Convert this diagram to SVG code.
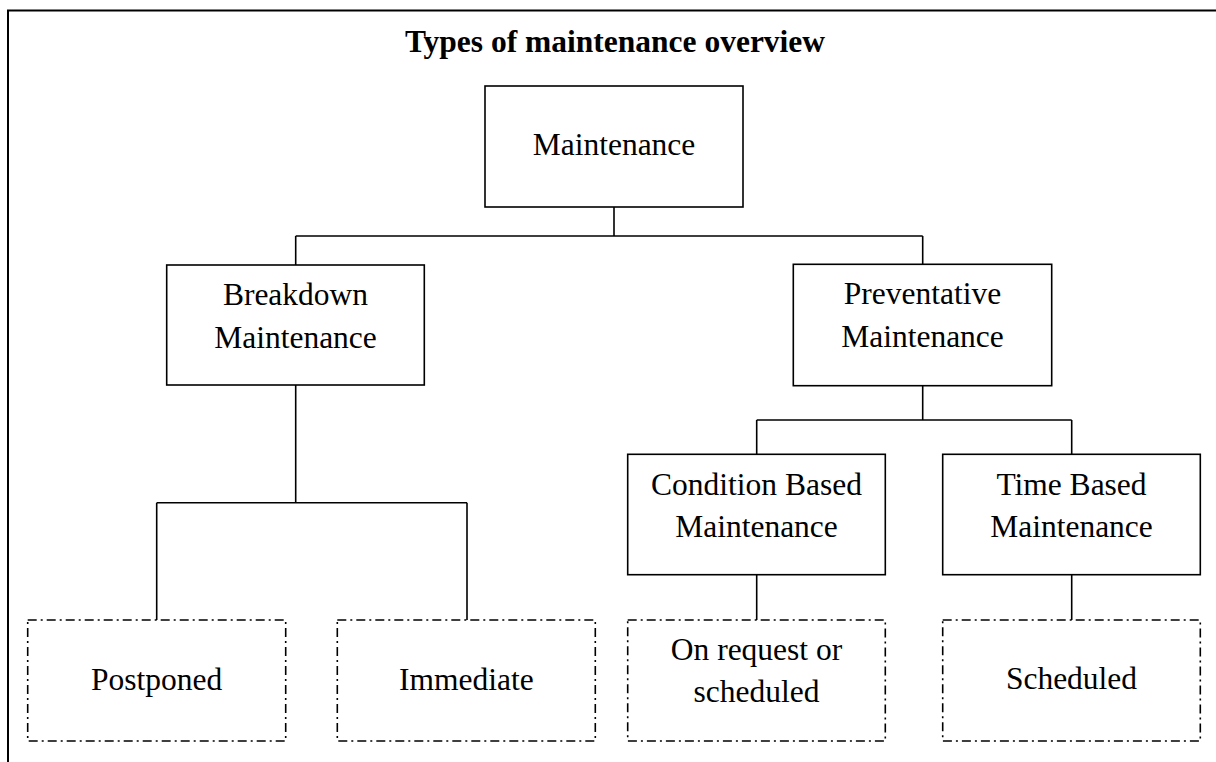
<svg xmlns="http://www.w3.org/2000/svg" width="1216" height="762" viewBox="0 0 1216 762">
<style>
.box{fill:#fff;stroke:#000;stroke-width:1.6}
.dash{fill:#fff;stroke:#000;stroke-width:1.6;stroke-dasharray:9 4 2 4}
.t{font-family:"Liberation Serif","Times New Roman",serif;font-size:31.5px;fill:#000;text-anchor:middle}
.title{font-family:"Liberation Serif","Times New Roman",serif;font-size:31.5px;font-weight:bold;fill:#000;text-anchor:middle}
.c{fill:none;stroke:#000;stroke-width:1.6}
</style>
<rect width="1216" height="762" fill="#fff"/>
<path d="M8 762 V10.5 H1216" fill="none" stroke="#000" stroke-width="2"/>
<text class="title" x="615" y="52">Types of maintenance overview</text>
<g id="connectors">
<path class="c" d="M614 207 V236 M295.7 236 H922.7 M295.7 236 V265 M922.7 236 V264.3"/>
<path class="c" d="M295.7 385 V502.7 M156.7 502.7 H467 M156.7 502.7 V620 M467 502.7 V620"/>
<path class="c" d="M922.7 385.7 V420 M756.7 420 H1071.7 M756.7 420 V454.3 M1071.7 420 V454.3"/>
<path class="c" d="M756.7 574.7 V620 M1071.7 574.7 V620"/>
</g>
<g id="maintenance">
<rect class="box" x="485" y="86" width="258" height="121"/>
<text class="t" x="614" y="155">Maintenance</text>
</g>
<g id="breakdown">
<rect class="box" x="166.7" y="265" width="257.6" height="120"/>
<text class="t" x="295.5" y="305">Breakdown</text>
<text class="t" x="295.5" y="347.7">Maintenance</text>
</g>
<g id="preventative">
<rect class="box" x="793.3" y="264.3" width="258.4" height="121.4"/>
<text class="t" x="922.5" y="304.3">Preventative</text>
<text class="t" x="922.5" y="347.3">Maintenance</text>
</g>
<g id="condition">
<rect class="box" x="627.7" y="454.3" width="257.6" height="120.4"/>
<text class="t" x="756.5" y="495">Condition Based</text>
<text class="t" x="756.5" y="536.7">Maintenance</text>
</g>
<g id="timebased">
<rect class="box" x="942.7" y="454.3" width="257.6" height="120.4"/>
<text class="t" x="1071.5" y="495">Time Based</text>
<text class="t" x="1071.5" y="536.7">Maintenance</text>
</g>
<g id="postponed">
<rect class="dash" x="27.7" y="620" width="258" height="121"/>
<text class="t" x="156.7" y="690">Postponed</text>
</g>
<g id="immediate">
<rect class="dash" x="337.3" y="620" width="258" height="121"/>
<text class="t" x="466.3" y="690">Immediate</text>
</g>
<g id="onrequest">
<rect class="dash" x="627.7" y="620" width="257.6" height="121"/>
<text class="t" x="756.5" y="660">On request or</text>
<text class="t" x="756.5" y="701.7">scheduled</text>
</g>
<g id="scheduled">
<rect class="dash" x="942.7" y="620" width="257.6" height="121"/>
<text class="t" x="1071.5" y="689">Scheduled</text>
</g>
</svg>
